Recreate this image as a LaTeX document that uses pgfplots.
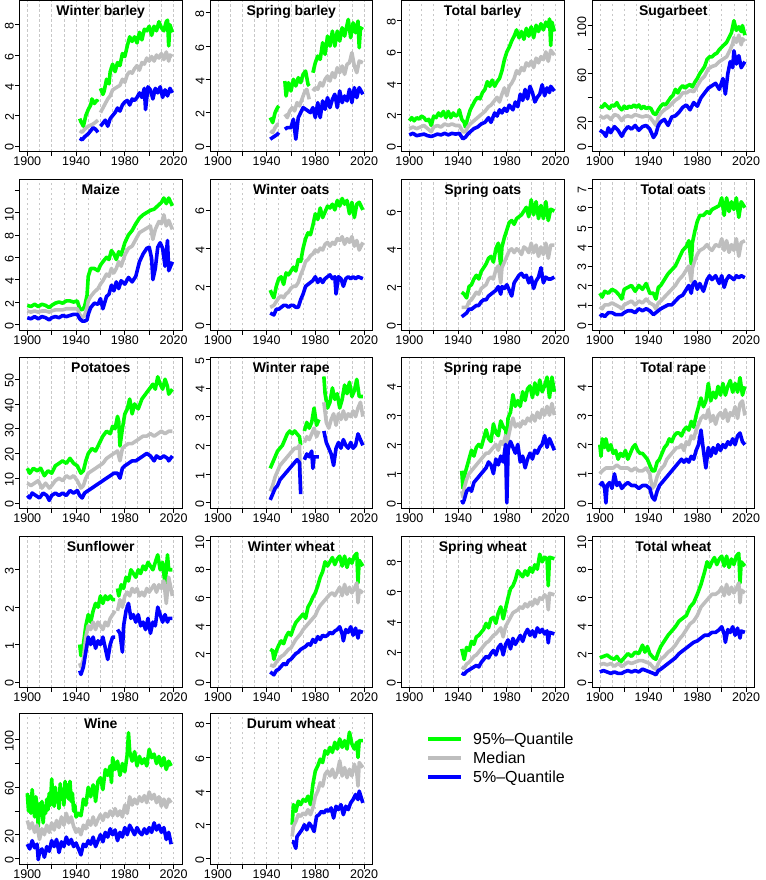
\documentclass[border=0pt]{standalone}
\usepackage{fontspec}
\setmainfont{Liberation Sans}
\usepackage{pgfplots}
\pgfplotsset{compat=1.18}
\definecolor{qgreen}{RGB}{0,255,0}
\definecolor{qgray}{RGB}{190,190,190}
\definecolor{qblue}{RGB}{0,0,255}
\definecolor{gridc}{RGB}{200,200,200}
\pgfplotsset{
 panel/.style={scale only axis, width=162.5pt, height=151pt, anchor=north west,
  xmin=1893.6, xmax=2026.9,
  axis line style={line width=0.8pt, black},
  tick align=outside, xtick pos=bottom, ytick pos=left,
  xtick={1900,1920,...,2020}, xticklabels={1900,,1940,,1980,,2020},
  minor xtick={1900,1910,...,2020}, minor tick length=0pt, xminorgrids,
  minor grid style={dash pattern=on 2.5pt off 2.5pt, gridc, line width=0.6pt},
  major tick length=4.5pt, tick style={black, line width=0.7pt},
  /pgf/number format/assume math mode=true,
  ticklabel style={font=\fontsize{12.5}{13}\selectfont, inner sep=1pt},
  xticklabel style={yshift=0pt},
  yticklabel style={rotate=90, anchor=south, xshift=-1.5pt},
  title style={at={(0.5,1)}, anchor=north, yshift=-7.5pt, font=\bfseries\fontsize{14}{15}\selectfont},
  unbounded coords=jump},
 hi/.style={line width=3.6pt, qgreen, line join=round},
 md/.style={line width=3.6pt, qgray, line join=round},
 lo/.style={line width=3.6pt, qblue, line join=round}
}
\begin{document}
\begin{tikzpicture}
\path[use as bounding box] (0,0) rectangle (765pt,-880pt);
% Row 1
\begin{axis}[panel, at={(19.5pt,-0.5pt)}, ymin=-0.37, ymax=9.6, ytick={0,2,...,8}, title={Winter barley}]
\addplot[hi] coordinates {(1943,1.8)(1944,1.6)(1946,1.3)(1948,2.0)(1950,2.4)(1952,2.7)(1953,3.1)(1955,2.8)(1957,3.0)(1958,2.9)(1959,nan)(1960,3.8)(1962,3.4)(1963,3.6)(1965,4.4)(1967,4.1)(1968,4.9)(1970,5.4)(1972,4.9)(1974,5.5)(1976,5.3)(1978,6.1)(1980,5.9)(1982,6.6)(1984,7.2)(1986,6.9)(1988,7.2)(1990,6.8)(1992,7.5)(1994,7.0)(1996,7.7)(1998,7.6)(2000,7.9)(2002,7.3)(2004,7.9)(2006,7.6)(2008,8.2)(2010,7.8)(2012,7.6)(2014,8.2)(2015,8.3)(2016,6.6)(2017,8.0)(2019,7.5)};
\addplot[md] coordinates {(1943,1.0)(1945,0.9)(1947,1.1)(1950,1.3)(1953,1.4)(1955,1.5)(1958,1.7)(1959,nan)(1960,2.2)(1962,2.5)(1964,2.8)(1966,3.1)(1968,3.3)(1970,3.7)(1972,3.8)(1974,3.9)(1976,4.0)(1978,4.4)(1980,4.2)(1982,4.7)(1984,4.9)(1986,4.8)(1988,5.1)(1990,5.3)(1992,5.0)(1994,5.5)(1996,5.4)(1998,5.8)(2000,5.6)(2002,5.9)(2004,5.6)(2006,6.0)(2008,5.8)(2010,6.1)(2012,5.7)(2014,6.2)(2016,5.6)(2017,6.0)(2019,5.9)};
\addplot[lo] coordinates {(1943,0.5)(1945,0.4)(1947,0.6)(1950,0.8)(1952,1.0)(1954,1.2)(1956,1.1)(1958,0.9)(1959,nan)(1960,1.3)(1962,1.5)(1964,1.7)(1966,1.3)(1968,1.8)(1970,2.0)(1972,2.2)(1974,2.5)(1976,2.3)(1978,2.7)(1980,2.9)(1982,3.0)(1984,2.7)(1986,3.1)(1988,3.0)(1990,3.2)(1992,3.5)(1994,3.2)(1996,3.8)(1997,2.4)(1999,3.9)(2001,3.7)(2003,3.1)(2005,3.8)(2007,3.5)(2009,3.9)(2011,3.2)(2013,3.7)(2015,3.3)(2017,3.8)(2019,3.5)};
\end{axis}
\begin{axis}[panel, at={(210pt,-0.5pt)}, ymin=-0.34, ymax=8.74, ytick={0,2,...,8}, title={Spring barley}]
\addplot[hi] coordinates {(1943,1.7)(1945,1.4)(1947,2.0)(1949,2.3)(1950,2.4)(1951,nan)(1955,3.9)(1956,3.0)(1958,3.8)(1960,3.3)(1962,4.0)(1964,3.6)(1966,4.1)(1968,3.8)(1970,4.3)(1972,4.5)(1974,3.7)(1975,3.6)(1976,nan)(1978,4.4)(1980,5.0)(1982,5.4)(1984,5.2)(1986,6.2)(1988,5.5)(1990,6.6)(1992,6.0)(1994,6.9)(1996,6.0)(1998,6.9)(2000,6.3)(2002,7.1)(2004,6.6)(2007,7.6)(2009,6.5)(2011,7.4)(2013,6.8)(2015,7.5)(2016,5.9)(2017,7.1)(2019,7.0)};
\addplot[md] coordinates {(1943,0.9)(1945,0.8)(1947,1.1)(1949,1.3)(1950,1.3)(1951,nan)(1955,1.9)(1957,1.7)(1959,2.1)(1961,2.3)(1963,2.1)(1965,2.6)(1967,2.4)(1969,2.8)(1971,3.2)(1973,3.4)(1975,2.8)(1976,nan)(1978,3.3)(1980,3.5)(1982,3.4)(1984,3.8)(1986,3.6)(1988,4.0)(1990,4.2)(1992,3.9)(1994,4.4)(1996,4.1)(1998,4.7)(2000,4.4)(2002,4.8)(2004,4.3)(2006,4.9)(2008,5.0)(2010,5.6)(2012,4.8)(2014,4.4)(2016,5.1)(2019,5.0)};
\addplot[lo] coordinates {(1943,0.4)(1945,0.5)(1947,0.6)(1949,0.7)(1950,0.8)(1951,nan)(1955,1.0)(1957,1.1)(1960,1.1)(1962,1.6)(1963,1.0)(1964,0.4)(1966,1.7)(1968,2.0)(1970,2.3)(1972,2.2)(1974,2.1)(1976,2.0)(1978,2.3)(1980,1.7)(1982,2.6)(1984,1.7)(1986,2.7)(1988,2.2)(1990,2.9)(1992,2.3)(1994,2.8)(1996,3.1)(1998,2.3)(2000,3.3)(2002,2.6)(2004,3.0)(2006,2.7)(2008,3.4)(2010,2.6)(2012,3.5)(2014,2.9)(2016,3.5)(2019,3.1)};
\end{axis}
\begin{axis}[panel, at={(401.5pt,-0.5pt)}, ymin=-0.36, ymax=9.28, ytick={0,2,...,8}, title={Total barley}]
\addplot[hi] coordinates {(1900,1.6)(1902,1.8)(1904,1.6)(1906,1.8)(1908,1.7)(1910,1.9)(1912,1.8)(1914,1.6)(1916,1.7)(1918,1.3)(1920,1.9)(1922,1.8)(1924,2.1)(1926,1.9)(1928,2.2)(1930,1.8)(1932,2.2)(1934,1.8)(1936,2.1)(1938,1.9)(1940,2.0)(1941,2.3)(1943,1.7)(1945,1.5)(1946,1.2)(1948,1.8)(1950,2.3)(1952,2.6)(1954,2.9)(1956,3.1)(1958,3.0)(1960,3.4)(1962,3.6)(1964,4.1)(1966,3.8)(1968,4.2)(1970,3.8)(1972,4.1)(1974,4.3)(1976,4.8)(1978,5.5)(1980,6.0)(1982,6.3)(1984,6.7)(1986,7.0)(1988,7.4)(1990,6.9)(1992,7.3)(1994,6.8)(1996,7.5)(1998,7.0)(2000,7.6)(2002,6.9)(2004,7.7)(2006,7.3)(2008,7.8)(2010,7.4)(2012,7.9)(2014,7.6)(2015,8.1)(2016,6.4)(2017,7.9)(2019,7.3)};
\addplot[md] coordinates {(1900,1.1)(1903,1.2)(1906,1.1)(1909,1.2)(1912,1.3)(1915,1.1)(1918,0.9)(1920,1.2)(1923,1.3)(1926,1.2)(1929,1.4)(1932,1.3)(1935,1.4)(1938,1.3)(1941,1.3)(1944,0.9)(1946,0.9)(1948,1.2)(1950,1.4)(1953,1.6)(1956,1.8)(1959,2.0)(1962,2.2)(1965,2.5)(1967,2.6)(1970,2.9)(1972,3.1)(1974,2.8)(1976,3.3)(1978,3.7)(1980,3.2)(1982,3.8)(1984,4.0)(1986,4.3)(1988,4.8)(1990,4.6)(1992,5.0)(1994,4.8)(1996,5.3)(1998,5.1)(2000,5.4)(2002,5.0)(2004,5.6)(2006,5.3)(2008,5.7)(2010,5.5)(2012,6.0)(2014,5.4)(2016,6.1)(2019,5.8)};
\addplot[lo] coordinates {(1900,0.7)(1903,0.8)(1906,0.65)(1909,0.7)(1912,0.75)(1915,0.65)(1918,0.6)(1920,0.65)(1923,0.75)(1926,0.7)(1929,0.8)(1932,0.7)(1935,0.8)(1938,0.75)(1941,0.8)(1944,0.45)(1946,0.55)(1948,0.75)(1950,0.9)(1953,1.1)(1956,1.2)(1959,1.4)(1962,1.5)(1965,1.8)(1967,1.5)(1970,2.1)(1972,1.9)(1974,2.3)(1976,2.1)(1978,2.4)(1980,2.2)(1982,2.6)(1985,2.3)(1987,2.8)(1989,2.5)(1991,3.3)(1993,2.9)(1995,3.6)(1997,3.0)(1999,3.8)(2001,3.4)(2003,2.8)(2005,3.1)(2007,3.3)(2009,3.9)(2011,3.2)(2013,3.7)(2015,3.4)(2016,3.8)(2019,3.5)};
\end{axis}
\begin{axis}[panel, at={(592pt,-0.5pt)}, ymin=-4.65, ymax=120.8, ytick={0,20,...,100}, yticklabels={0,20,,60,,100}, title={Sugarbeet}]
\addplot[hi] coordinates {(1900,33)(1902,32)(1904,35)(1906,33)(1908,31)(1910,34)(1912,33)(1914,36)(1916,32)(1918,30)(1920,33)(1922,31)(1924,33)(1926,32)(1928,34)(1930,32)(1932,34)(1934,31)(1936,33)(1938,31)(1940,32)(1942,31)(1944,27)(1946,26)(1948,30)(1950,33)(1952,35)(1954,34)(1956,37)(1958,40)(1960,42)(1962,47)(1964,44)(1966,48)(1968,50)(1970,48)(1972,50)(1974,51)(1976,49)(1978,53)(1980,56)(1982,60)(1984,63)(1986,66)(1988,72)(1990,74)(1992,74)(1994,76)(1996,77)(1998,80)(2000,82)(2002,84)(2004,86)(2006,90)(2008,94)(2010,104)(2012,96)(2014,99)(2016,95)(2017,100)(2019,92)};
\addplot[md] coordinates {(1900,25)(1903,23)(1906,25)(1909,22)(1912,26)(1915,25)(1918,21)(1920,24)(1923,25)(1926,24)(1929,26)(1932,25)(1935,24)(1938,25)(1941,24)(1944,20)(1946,17)(1948,24)(1950,27)(1953,30)(1956,32)(1959,35)(1962,38)(1965,40)(1968,44)(1971,44)(1974,46)(1977,45)(1980,50)(1983,55)(1986,58)(1989,64)(1992,66)(1995,67)(1998,70)(2001,72)(2004,74)(2007,80)(2009,85)(2010,90)(2012,86)(2014,92)(2016,84)(2017,89)(2019,87)};
\addplot[lo] coordinates {(1900,13)(1903,11)(1905,8)(1907,15)(1909,11)(1912,16)(1915,13)(1918,8)(1920,12)(1923,16)(1926,14)(1929,17)(1932,13)(1935,16)(1938,17)(1941,14)(1944,7)(1946,10)(1948,17)(1950,20)(1953,22)(1956,17)(1959,24)(1962,25)(1965,28)(1968,32)(1971,34)(1974,30)(1977,36)(1980,33)(1983,40)(1986,44)(1989,48)(1992,50)(1995,52)(1998,47)(2001,56)(2003,43)(2005,60)(2007,70)(2009,65)(2010,79)(2012,68)(2014,75)(2016,65)(2019,70)};
\end{axis}
% Row 2
\begin{axis}[panel, at={(19.5pt,-179pt)}, ymin=-0.5, ymax=13.0, ytick={0,2,...,12}, yticklabels={0,2,4,6,8,10,}, title={Maize}]
\addplot[hi] coordinates {(1900,1.7)(1903,1.6)(1906,1.8)(1909,1.6)(1912,1.8)(1915,1.7)(1918,1.5)(1920,1.7)(1923,1.9)(1926,2.0)(1929,1.9)(1932,2.1)(1935,2.1)(1938,2.0)(1941,2.1)(1943,1.4)(1945,1.3)(1947,1.6)(1949,2.6)(1950,4.3)(1952,5.0)(1955,5.0)(1958,4.8)(1960,5.3)(1962,5.6)(1965,6.0)(1967,5.8)(1969,6.6)(1971,6.3)(1973,5.8)(1975,6.5)(1977,6.2)(1980,7.3)(1983,8.0)(1986,8.4)(1989,9.0)(1992,9.5)(1995,9.8)(1998,10.0)(2001,10.2)(2004,10.3)(2007,10.6)(2010,10.9)(2012,11.3)(2014,10.8)(2016,11.3)(2019,10.6)};
\addplot[md] coordinates {(1900,1.2)(1903,1.1)(1906,1.2)(1909,1.1)(1912,1.2)(1915,1.2)(1918,1.1)(1920,1.2)(1923,1.3)(1926,1.3)(1929,1.3)(1932,1.4)(1935,1.4)(1938,1.4)(1941,1.4)(1943,0.9)(1945,0.6)(1947,0.8)(1949,1.5)(1950,2.1)(1952,2.5)(1955,2.9)(1958,3.2)(1960,3.6)(1962,3.9)(1965,4.5)(1967,4.3)(1969,5.0)(1971,4.6)(1973,5.0)(1975,5.6)(1977,5.2)(1980,6.2)(1983,6.8)(1986,7.0)(1989,7.6)(1992,8.2)(1995,8.4)(1998,8.6)(2001,8.8)(2003,7.6)(2005,8.5)(2008,9.2)(2010,9.0)(2012,9.8)(2014,8.8)(2016,9.3)(2019,8.5)};
\addplot[lo] coordinates {(1900,0.6)(1903,0.5)(1906,0.7)(1909,0.5)(1912,0.7)(1915,0.6)(1918,0.4)(1920,0.6)(1923,0.7)(1926,0.6)(1929,0.8)(1932,0.7)(1935,0.8)(1938,0.9)(1941,0.9)(1943,0.5)(1945,0.3)(1947,0.3)(1949,0.4)(1950,0.9)(1952,1.5)(1955,1.9)(1958,1.8)(1960,2.3)(1962,1.4)(1965,2.5)(1967,2.7)(1969,3.5)(1971,3.0)(1973,3.8)(1975,3.2)(1977,3.9)(1980,3.6)(1983,4.2)(1986,3.8)(1989,4.3)(1992,5.6)(1995,6.3)(1998,6.8)(2000,6.9)(2002,5.9)(2003,4.0)(2005,5.0)(2007,6.9)(2009,7.3)(2011,6.8)(2013,5.2)(2015,7.5)(2016,4.8)(2019,5.6)};
\end{axis}
\begin{axis}[panel, at={(210pt,-179pt)}, ymin=-0.29, ymax=7.62, ytick={0,2,...,6}, title={Winter oats}]
\addplot[hi] coordinates {(1943,1.8)(1945,1.5)(1946,1.4)(1948,2.0)(1950,2.4)(1952,2.5)(1954,2.1)(1956,2.7)(1958,2.6)(1960,2.8)(1962,3.0)(1964,2.8)(1966,3.4)(1968,3.3)(1970,4.0)(1972,4.5)(1974,4.8)(1976,4.7)(1978,5.2)(1980,5.8)(1982,5.5)(1984,6.1)(1986,5.6)(1988,5.9)(1990,6.2)(1992,6.1)(1994,6.3)(1996,6.0)(1998,6.5)(2000,6.2)(2002,6.6)(2004,6.3)(2006,6.5)(2008,5.8)(2010,6.4)(2012,5.6)(2014,6.3)(2016,6.4)(2019,6.0)};
\addplot[md] coordinates {(1943,0.9)(1946,1.0)(1948,1.2)(1950,1.4)(1952,1.5)(1954,1.4)(1956,1.6)(1958,1.7)(1960,1.9)(1962,2.0)(1964,2.0)(1966,2.2)(1968,2.6)(1970,2.9)(1972,3.3)(1974,3.4)(1976,3.6)(1978,3.7)(1980,3.9)(1982,3.8)(1984,4.0)(1986,3.9)(1988,4.2)(1990,4.3)(1992,4.1)(1994,4.3)(1996,4.2)(1998,4.5)(2000,4.4)(2002,4.6)(2004,4.2)(2006,4.5)(2008,4.3)(2010,4.6)(2012,4.1)(2014,4.4)(2016,3.9)(2019,4.3)};
\addplot[lo] coordinates {(1943,0.6)(1946,0.5)(1948,0.8)(1950,0.8)(1952,0.9)(1954,1.0)(1956,1.0)(1958,0.9)(1960,1.0)(1962,1.0)(1964,0.9)(1966,0.9)(1968,1.3)(1970,1.6)(1972,2.0)(1974,2.1)(1976,2.2)(1978,2.3)(1980,2.5)(1982,2.2)(1984,2.4)(1986,2.2)(1988,2.4)(1990,2.5)(1992,2.6)(1994,2.4)(1996,2.5)(1997,1.6)(1999,2.5)(2001,2.4)(2003,2.0)(2005,2.4)(2007,2.5)(2009,2.4)(2011,2.5)(2013,2.4)(2015,2.5)(2019,2.4)};
\end{axis}
\begin{axis}[panel, at={(401.5pt,-179pt)}, ymin=-0.3, ymax=7.7, ytick={0,2,...,6}, title={Spring oats}]
\addplot[hi] coordinates {(1943,1.7)(1945,1.6)(1947,1.4)(1949,2.0)(1951,2.1)(1953,2.4)(1955,2.6)(1957,2.4)(1959,2.8)(1961,3.0)(1963,3.2)(1965,3.5)(1967,3.6)(1969,3.3)(1971,4.0)(1973,4.3)(1975,3.1)(1976,4.1)(1978,4.6)(1980,5.0)(1982,5.4)(1984,5.5)(1986,5.3)(1988,5.6)(1990,5.7)(1992,5.8)(1994,6.0)(1996,6.2)(1998,5.7)(2000,6.6)(2002,5.8)(2004,6.5)(2006,5.6)(2008,6.3)(2010,5.6)(2012,6.5)(2014,5.5)(2016,6.1)(2019,6.0)};
\addplot[md] coordinates {(1943,0.9)(1945,0.9)(1947,0.9)(1949,1.2)(1951,1.3)(1953,1.5)(1955,1.7)(1957,1.6)(1959,1.9)(1961,2.0)(1963,2.1)(1965,2.4)(1967,2.5)(1969,2.4)(1971,2.9)(1973,3.1)(1975,2.2)(1976,3.0)(1978,3.3)(1980,3.6)(1982,3.9)(1984,4.0)(1986,3.8)(1988,4.0)(1990,3.9)(1992,3.7)(1994,4.1)(1996,4.0)(1998,3.8)(2000,4.3)(2002,3.8)(2004,4.2)(2006,3.6)(2008,4.1)(2010,3.7)(2012,4.3)(2014,3.5)(2016,4.2)(2019,4.2)};
\addplot[lo] coordinates {(1943,0.4)(1945,0.5)(1947,0.6)(1949,0.8)(1951,0.8)(1953,0.9)(1955,1.0)(1957,1.0)(1959,1.2)(1961,1.3)(1963,1.3)(1965,1.5)(1967,1.6)(1969,1.7)(1971,1.8)(1973,2.0)(1975,1.6)(1976,2.0)(1978,1.9)(1980,2.1)(1982,1.8)(1984,1.5)(1986,2.2)(1988,2.4)(1990,2.6)(1992,2.7)(1994,2.5)(1996,2.6)(1998,2.2)(2000,2.5)(2002,1.9)(2004,2.3)(2006,2.5)(2008,3.0)(2010,2.2)(2012,2.5)(2014,2.4)(2016,2.4)(2019,2.5)};
\end{axis}
\begin{axis}[panel, at={(592pt,-179pt)}, ymin=-0.29, ymax=7.47, ytick={0,1,...,7}, title={Total oats}]
\addplot[hi] coordinates {(1900,1.6)(1902,1.4)(1904,1.7)(1907,1.6)(1910,1.8)(1913,1.7)(1916,1.5)(1918,1.3)(1920,1.8)(1923,1.9)(1926,2.0)(1929,1.7)(1932,2.0)(1935,1.8)(1938,2.1)(1941,1.6)(1944,1.6)(1946,1.3)(1948,1.9)(1950,2.0)(1953,2.3)(1956,2.6)(1959,2.8)(1962,3.0)(1965,3.4)(1968,3.8)(1971,4.0)(1973,4.3)(1975,3.1)(1976,4.2)(1978,4.8)(1980,5.3)(1982,5.6)(1985,5.6)(1988,5.8)(1990,5.7)(1992,5.9)(1995,6.0)(1998,6.1)(2000,6.5)(2002,5.6)(2004,6.5)(2006,5.8)(2008,6.3)(2010,5.9)(2012,6.5)(2014,5.5)(2016,6.3)(2019,6.0)};
\addplot[md] coordinates {(1900,0.9)(1902,0.8)(1904,1.0)(1907,1.0)(1910,1.1)(1913,1.0)(1916,0.9)(1918,0.8)(1920,1.0)(1923,1.1)(1926,1.2)(1929,1.0)(1932,1.2)(1935,1.1)(1938,1.3)(1941,1.1)(1944,1.0)(1946,0.8)(1948,1.1)(1950,1.2)(1953,1.4)(1956,1.6)(1959,1.8)(1962,2.0)(1965,2.3)(1968,2.5)(1971,2.8)(1973,3.0)(1975,2.2)(1976,2.9)(1978,3.3)(1980,3.6)(1982,3.8)(1985,3.9)(1988,4.1)(1990,3.9)(1992,3.8)(1995,4.1)(1998,4.0)(2000,4.4)(2002,3.8)(2004,4.3)(2006,3.7)(2008,4.1)(2010,3.8)(2012,4.4)(2014,3.5)(2016,4.2)(2019,4.3)};
\addplot[lo] coordinates {(1900,0.4)(1902,0.5)(1904,0.4)(1907,0.6)(1910,0.6)(1913,0.5)(1916,0.5)(1918,0.5)(1920,0.6)(1923,0.7)(1926,0.7)(1929,0.6)(1932,0.8)(1935,0.7)(1938,0.8)(1941,0.7)(1944,0.5)(1946,0.6)(1948,0.7)(1950,0.8)(1953,0.9)(1956,1.0)(1959,1.0)(1962,1.2)(1965,1.4)(1968,1.5)(1971,1.8)(1973,2.0)(1975,1.6)(1976,2.0)(1978,2.2)(1980,1.8)(1982,2.1)(1985,1.7)(1988,2.3)(1990,2.5)(1992,2.3)(1995,2.5)(1998,2.1)(2000,2.5)(2002,1.9)(2004,2.3)(2006,2.5)(2008,2.4)(2010,2.3)(2012,2.5)(2014,2.4)(2016,2.5)(2019,2.4)};
\end{axis}
% Row 3
\begin{axis}[panel, at={(19.5pt,-357.5pt)}, ymin=-2.26, ymax=58.8, ytick={0,10,...,50}, title={Potatoes}]
\addplot[hi] coordinates {(1900,14)(1902,12)(1905,14)(1908,13)(1911,14)(1914,11)(1917,13)(1920,12)(1923,15)(1926,16)(1929,17)(1932,16)(1935,18)(1938,16)(1941,15)(1944,12)(1946,13)(1948,17)(1950,20)(1953,22)(1956,21)(1959,24)(1962,27)(1965,29)(1968,28)(1970,31)(1972,30)(1974,35)(1975,33)(1976,23)(1978,30)(1980,36)(1982,38)(1984,42)(1986,36)(1988,40)(1991,38)(1994,42)(1997,44)(2000,46)(2003,48)(2005,46)(2007,51)(2009,48)(2011,46)(2013,50)(2015,47)(2016,44)(2019,46)};
\addplot[md] coordinates {(1900,8)(1903,7)(1906,8)(1909,9)(1912,6)(1915,8)(1918,6)(1920,7)(1923,9)(1926,10)(1929,9)(1932,11)(1935,10)(1938,11)(1941,9)(1944,6)(1946,7)(1948,10)(1950,12)(1953,13)(1956,14)(1959,15)(1962,16)(1965,18)(1968,19)(1971,20)(1974,21)(1976,17)(1978,22)(1980,23)(1983,24)(1986,24)(1989,25)(1992,26)(1995,27)(1998,27)(2001,28)(2004,27)(2007,28)(2010,29)(2013,28)(2016,29)(2019,29)};
\addplot[lo] coordinates {(1900,3)(1902,2)(1904,4)(1907,3)(1910,2)(1913,4)(1916,3)(1918,1)(1920,3)(1923,4)(1926,3)(1929,4)(1932,3)(1935,5)(1938,4)(1941,5)(1943,3)(1945,2)(1947,4)(1950,5)(1953,6)(1956,7)(1959,8)(1962,9)(1965,10)(1968,11)(1971,12)(1974,12)(1976,10)(1978,14)(1980,15)(1983,16)(1986,17)(1989,17)(1992,18)(1995,19)(1998,20)(2001,19)(2004,17)(2006,19)(2009,18)(2012,19)(2015,18)(2016,17)(2019,19)};
\end{axis}
\begin{axis}[panel, at={(210pt,-357.5pt)}, ymin=-0.2, ymax=5.06, ytick={0,1,...,5}, title={Winter rape}]
\addplot[hi] coordinates {(1943,1.2)(1945,1.4)(1947,1.6)(1949,1.8)(1951,1.9)(1953,2.0)(1955,2.2)(1957,2.4)(1959,2.5)(1961,2.4)(1963,2.5)(1965,2.4)(1967,2.3)(1968,2.0)(1969,nan)(1971,2.5)(1973,2.8)(1975,2.6)(1977,2.8)(1979,3.3)(1981,2.7)(1983,2.9)(1984,nan)(1987,4.4)(1988,3.8)(1990,3.3)(1992,3.5)(1994,4.0)(1996,3.6)(1998,3.8)(2000,3.3)(2002,3.6)(2004,4.1)(2006,3.8)(2008,4.2)(2010,3.7)(2012,3.9)(2014,4.3)(2016,3.7)(2019,3.7)};
\addplot[md] coordinates {(1943,0.4)(1945,0.6)(1947,0.9)(1949,1.1)(1951,1.3)(1953,1.4)(1955,1.5)(1957,1.6)(1959,1.7)(1961,1.8)(1963,1.9)(1965,1.9)(1967,2.0)(1968,0.4)(1969,nan)(1971,2.1)(1973,2.3)(1975,2.2)(1977,2.4)(1979,2.6)(1981,2.3)(1983,2.5)(1984,nan)(1987,3.5)(1989,2.8)(1991,2.6)(1993,2.9)(1995,3.1)(1997,2.7)(1999,3.1)(2001,2.9)(2003,3.2)(2005,2.9)(2007,3.1)(2009,3.0)(2011,3.2)(2013,3.0)(2015,3.3)(2017,3.5)(2019,3.0)};
\addplot[lo] coordinates {(1943,0.1)(1945,0.3)(1947,0.5)(1949,0.6)(1951,0.8)(1953,0.9)(1955,1.0)(1957,1.1)(1959,1.2)(1961,1.3)(1963,1.4)(1965,1.5)(1967,1.4)(1968,0.3)(1969,nan)(1971,1.5)(1973,1.7)(1975,1.6)(1977,1.8)(1978,1.2)(1979,1.6)(1981,1.6)(1983,1.6)(1984,nan)(1987,2.5)(1989,2.1)(1991,1.9)(1993,1.7)(1995,1.3)(1997,1.9)(1999,2.1)(2001,1.9)(2003,2.2)(2005,2.0)(2007,1.9)(2009,2.1)(2011,1.9)(2013,2.0)(2015,2.4)(2016,2.3)(2019,2.0)};
\end{axis}
\begin{axis}[panel, at={(401.5pt,-357.5pt)}, ymin=-0.19, ymax=4.97, ytick={0,1,...,4}, title={Spring rape}]
\addplot[hi] coordinates {(1943,1.1)(1944,0.5)(1945,0.9)(1947,1.2)(1949,1.5)(1951,1.8)(1953,1.6)(1955,1.9)(1957,2.0)(1959,1.9)(1961,2.2)(1963,2.5)(1965,2.2)(1967,2.1)(1969,2.7)(1971,2.4)(1973,2.3)(1975,2.8)(1977,2.6)(1979,2.5)(1980,2.2)(1981,2.9)(1983,3.1)(1985,3.7)(1987,3.3)(1989,3.5)(1991,3.3)(1993,3.8)(1995,3.5)(1997,3.9)(1999,4.0)(2001,3.6)(2003,4.1)(2005,3.7)(2007,4.2)(2009,3.8)(2011,4.0)(2013,4.3)(2015,3.6)(2017,4.3)(2019,3.8)};
\addplot[md] coordinates {(1943,0.4)(1944,0.2)(1945,0.5)(1947,0.8)(1949,1.0)(1951,1.1)(1953,1.2)(1955,1.3)(1957,1.4)(1959,1.5)(1961,1.6)(1963,1.7)(1965,1.7)(1967,1.8)(1969,1.9)(1971,2.0)(1973,1.8)(1975,2.1)(1977,2.0)(1979,2.3)(1980,0.1)(1981,2.2)(1983,2.6)(1985,2.9)(1987,2.6)(1989,2.7)(1991,2.6)(1993,2.8)(1995,2.7)(1997,2.9)(1999,2.8)(2001,3.0)(2003,2.8)(2005,3.1)(2007,2.9)(2009,3.2)(2011,3.0)(2013,3.3)(2015,3.0)(2017,3.4)(2019,3.0)};
\addplot[lo] coordinates {(1943,0.1)(1944,0.0)(1945,0.1)(1947,0.4)(1949,0.5)(1951,0.4)(1953,0.7)(1955,0.8)(1957,0.9)(1959,1.0)(1961,1.1)(1963,1.2)(1965,1.4)(1967,1.3)(1969,1.0)(1971,1.5)(1973,1.3)(1975,1.6)(1977,1.4)(1979,2.0)(1980,0.0)(1981,1.8)(1983,2.1)(1985,1.9)(1987,1.7)(1989,2.0)(1991,1.4)(1993,1.6)(1995,1.2)(1997,1.5)(1999,1.7)(2001,1.5)(2003,1.8)(2005,1.7)(2007,1.9)(2009,2.0)(2011,2.3)(2013,1.9)(2015,2.2)(2017,2.0)(2019,1.8)};
\end{axis}
\begin{axis}[panel, at={(592pt,-357.5pt)}, ymin=-0.19, ymax=4.99, ytick={0,1,...,4}, title={Total rape}]
\addplot[hi] coordinates {(1900,2.0)(1901,1.6)(1902,2.2)(1904,1.9)(1905,2.2)(1907,1.8)(1909,2.0)(1911,1.7)(1913,1.8)(1915,1.5)(1917,1.7)(1919,1.6)(1921,1.8)(1923,1.5)(1925,1.7)(1927,1.9)(1929,2.0)(1931,1.8)(1933,1.7)(1935,1.7)(1937,1.6)(1939,1.5)(1941,1.3)(1943,1.1)(1945,1.1)(1947,1.4)(1949,1.5)(1951,1.7)(1953,1.9)(1955,2.0)(1957,2.2)(1959,2.1)(1961,2.3)(1963,2.4)(1965,2.4)(1967,2.3)(1969,2.5)(1971,2.6)(1973,2.5)(1975,2.8)(1977,2.6)(1979,3.0)(1981,3.3)(1983,3.6)(1985,3.3)(1987,3.5)(1989,4.1)(1991,3.5)(1993,3.8)(1995,3.6)(1997,4.0)(1999,3.7)(2001,4.1)(2003,3.7)(2005,4.0)(2007,4.2)(2009,3.8)(2011,4.1)(2013,3.8)(2015,4.3)(2017,3.7)(2019,4.0)};
\addplot[md] coordinates {(1900,1.0)(1902,1.1)(1905,1.2)(1908,1.2)(1911,1.2)(1914,1.3)(1917,1.2)(1920,1.2)(1923,1.2)(1926,1.1)(1929,1.2)(1932,1.1)(1935,1.1)(1938,1.2)(1941,1.0)(1943,0.5)(1945,0.6)(1947,0.9)(1949,1.1)(1951,1.2)(1953,1.3)(1955,1.5)(1957,1.6)(1959,1.7)(1961,1.8)(1963,1.9)(1965,1.9)(1967,2.0)(1969,1.8)(1971,2.1)(1973,2.0)(1975,2.3)(1977,2.2)(1979,2.5)(1981,2.7)(1983,2.9)(1985,3.0)(1987,2.9)(1989,3.2)(1991,2.8)(1993,3.0)(1995,2.7)(1997,3.0)(1999,3.1)(2001,2.9)(2003,3.2)(2005,2.8)(2007,3.1)(2009,3.0)(2011,3.3)(2013,2.9)(2015,3.4)(2017,3.5)(2019,3.0)};
\addplot[lo] coordinates {(1900,0.6)(1902,0.7)(1904,0.5)(1905,0.0)(1906,0.6)(1908,0.7)(1910,0.5)(1912,1.0)(1914,0.6)(1916,0.7)(1918,0.5)(1920,0.6)(1923,0.7)(1926,0.6)(1929,0.6)(1932,0.5)(1935,0.6)(1938,0.6)(1941,0.5)(1943,0.2)(1945,0.1)(1947,0.4)(1949,0.6)(1951,0.7)(1953,0.8)(1955,0.9)(1957,1.0)(1959,1.1)(1961,1.2)(1963,1.3)(1965,1.4)(1967,1.5)(1969,1.4)(1971,1.5)(1973,1.4)(1975,1.6)(1977,1.5)(1979,1.8)(1981,2.0)(1983,2.5)(1985,1.8)(1987,1.2)(1989,1.9)(1991,1.6)(1993,1.9)(1995,1.7)(1997,2.0)(1999,1.8)(2001,2.0)(2003,1.9)(2005,2.1)(2007,2.0)(2009,2.2)(2011,2.0)(2013,2.3)(2015,2.4)(2017,2.1)(2019,2.0)};
\end{axis}
% Row 4
\begin{axis}[panel, at={(19.5pt,-536.5pt)}, ymin=-0.15, ymax=3.89, ytick={0,1,...,3}, title={Sunflower}]
\addplot[hi] coordinates {(1943,1.0)(1944,0.7)(1946,1.0)(1948,1.5)(1950,1.8)(1952,1.6)(1954,1.9)(1956,2.1)(1958,2.0)(1960,2.3)(1962,2.1)(1964,2.3)(1966,2.2)(1968,2.3)(1970,2.2)(1972,2.2)(1973,nan)(1974,2.5)(1975,2.3)(1977,2.6)(1979,2.5)(1981,2.8)(1983,2.7)(1985,3.0)(1987,2.9)(1989,2.8)(1991,3.0)(1993,2.9)(1995,3.1)(1997,3.0)(1999,3.2)(2001,3.1)(2003,3.0)(2005,3.2)(2007,3.4)(2009,3.0)(2011,3.2)(2013,2.6)(2015,3.4)(2016,3.0)(2019,3.0)};
\addplot[md] coordinates {(1943,0.5)(1944,0.4)(1946,0.6)(1948,1.2)(1950,1.5)(1952,1.4)(1954,1.6)(1956,1.4)(1958,1.6)(1960,1.5)(1962,1.4)(1964,1.6)(1966,1.5)(1968,1.7)(1970,1.8)(1972,1.9)(1973,nan)(1974,1.9)(1976,2.2)(1978,2.0)(1980,2.3)(1982,2.4)(1984,2.3)(1986,2.5)(1988,2.4)(1990,2.5)(1992,2.3)(1994,2.4)(1996,2.3)(1998,2.5)(2000,2.4)(2002,2.5)(2004,2.6)(2006,2.4)(2008,2.6)(2010,2.5)(2012,2.7)(2014,2.1)(2016,2.8)(2019,2.3)};
\addplot[lo] coordinates {(1943,0.3)(1944,0.2)(1946,0.4)(1948,0.8)(1950,1.2)(1952,1.0)(1954,1.2)(1956,0.9)(1958,1.1)(1960,1.0)(1962,1.2)(1964,0.9)(1966,0.6)(1968,1.0)(1970,1.2)(1972,1.2)(1973,nan)(1974,1.4)(1976,1.3)(1978,0.8)(1979,1.5)(1981,1.9)(1983,2.1)(1985,1.7)(1987,1.8)(1989,1.6)(1991,1.8)(1993,1.5)(1995,1.6)(1997,1.4)(1999,1.7)(2001,1.3)(2003,1.6)(2005,1.5)(2007,2.0)(2009,1.8)(2011,1.6)(2013,1.8)(2015,1.6)(2016,1.7)(2019,1.7)};
\end{axis}
\begin{axis}[panel, at={(210pt,-536.5pt)}, ymin=-0.4, ymax=10.29, ytick={0,2,...,10}, title={Winter wheat}]
\addplot[hi] coordinates {(1943,2.3)(1945,2.2)(1946,1.6)(1948,2.2)(1950,2.6)(1952,2.9)(1954,2.7)(1956,3.2)(1958,3.5)(1960,3.3)(1962,3.8)(1964,4.2)(1966,4.4)(1968,4.6)(1970,4.8)(1972,4.5)(1974,5.3)(1976,5.6)(1978,6.0)(1980,6.3)(1982,6.8)(1984,7.4)(1986,7.8)(1988,8.5)(1990,8.2)(1992,8.5)(1994,8.8)(1996,8.3)(1998,8.7)(2000,8.9)(2002,8.2)(2004,8.9)(2006,8.1)(2008,8.7)(2010,8.4)(2012,8.9)(2014,9.1)(2015,7.0)(2016,8.6)(2019,8.2)};
\addplot[md] coordinates {(1943,1.2)(1946,1.1)(1948,1.4)(1950,1.6)(1952,1.8)(1954,1.9)(1956,2.1)(1958,2.3)(1960,2.4)(1962,2.7)(1964,3.0)(1966,3.2)(1968,3.4)(1970,3.7)(1972,3.9)(1974,4.1)(1976,4.3)(1978,4.5)(1980,4.7)(1982,5.1)(1984,5.4)(1986,5.6)(1988,5.8)(1990,6.0)(1992,6.2)(1994,6.3)(1996,6.1)(1998,6.4)(2000,6.7)(2002,6.1)(2004,6.9)(2006,6.2)(2008,6.7)(2010,6.3)(2012,6.6)(2014,7.0)(2015,5.6)(2016,6.5)(2019,6.3)};
\addplot[lo] coordinates {(1943,0.7)(1946,0.5)(1948,0.8)(1950,0.9)(1952,1.1)(1954,1.3)(1956,1.2)(1958,1.5)(1960,1.6)(1962,1.8)(1964,2.0)(1966,2.1)(1968,2.3)(1970,2.4)(1972,2.5)(1974,2.7)(1976,2.6)(1978,3.0)(1980,2.8)(1982,3.2)(1984,3.0)(1986,3.3)(1988,3.2)(1990,3.3)(1992,3.5)(1994,3.4)(1996,3.6)(1998,3.7)(2000,3.9)(2002,3.4)(2003,2.9)(2005,3.7)(2007,3.5)(2009,3.9)(2011,3.3)(2013,3.8)(2015,3.1)(2016,3.6)(2019,3.5)};
\end{axis}
\begin{axis}[panel, at={(401.5pt,-536.5pt)}, ymin=-0.37, ymax=9.68, ytick={0,2,...,8}, title={Spring wheat}]
\addplot[hi] coordinates {(1943,2.2)(1945,1.5)(1947,2.3)(1949,2.1)(1951,2.7)(1953,2.5)(1955,3.0)(1957,3.1)(1959,3.3)(1961,3.5)(1963,3.9)(1965,3.6)(1967,4.2)(1969,4.3)(1971,3.9)(1973,4.6)(1975,5.0)(1977,4.2)(1979,4.9)(1981,5.6)(1983,6.2)(1985,6.4)(1987,6.8)(1989,7.4)(1991,7.2)(1993,7.0)(1995,7.4)(1997,7.1)(1999,7.6)(2001,7.3)(2003,7.8)(2005,7.5)(2007,8.5)(2009,8.0)(2011,8.3)(2013,8.2)(2014,6.4)(2015,8.3)(2019,8.2)};
\addplot[md] coordinates {(1943,1.0)(1945,0.9)(1947,1.2)(1949,1.3)(1951,1.5)(1953,1.7)(1955,1.8)(1957,2.0)(1959,2.2)(1961,2.4)(1963,2.6)(1965,2.7)(1967,2.9)(1969,3.1)(1971,3.2)(1973,3.4)(1975,3.6)(1977,3.0)(1979,3.7)(1981,4.0)(1983,4.3)(1985,4.6)(1987,4.7)(1989,4.8)(1991,5.0)(1993,4.9)(1995,5.2)(1997,5.0)(1999,5.3)(2001,5.1)(2003,5.5)(2005,5.2)(2007,5.6)(2009,5.5)(2011,5.8)(2013,5.6)(2014,4.8)(2015,5.9)(2019,5.8)};
\addplot[lo] coordinates {(1943,0.6)(1945,0.5)(1947,0.7)(1949,0.8)(1951,0.9)(1953,1.0)(1955,1.1)(1957,1.0)(1959,1.3)(1961,1.5)(1963,1.7)(1965,1.6)(1967,1.9)(1969,2.1)(1971,1.8)(1973,2.3)(1975,2.5)(1977,1.8)(1979,2.5)(1981,2.8)(1983,2.2)(1985,2.9)(1987,2.5)(1989,2.8)(1991,3.1)(1993,2.7)(1995,3.2)(1997,3.5)(1999,3.1)(2001,3.4)(2003,3.0)(2005,3.6)(2007,3.3)(2009,3.5)(2011,3.2)(2013,3.4)(2014,2.6)(2015,3.3)(2019,3.2)};
\end{axis}
\begin{axis}[panel, at={(592pt,-536.5pt)}, ymin=-0.4, ymax=10.29, ytick={0,2,...,10}, title={Total wheat}]
\addplot[hi] coordinates {(1900,1.7)(1903,1.8)(1906,1.9)(1909,1.7)(1912,1.6)(1914,1.8)(1917,1.4)(1920,1.7)(1923,2.0)(1926,1.8)(1929,2.1)(1932,2.0)(1935,2.6)(1937,2.1)(1939,2.5)(1941,2.0)(1944,1.7)(1946,1.6)(1948,2.1)(1950,2.5)(1953,2.9)(1956,3.3)(1959,3.6)(1962,3.9)(1965,4.3)(1968,4.5)(1971,4.7)(1974,5.3)(1977,5.6)(1980,6.2)(1983,6.9)(1986,7.8)(1988,8.5)(1990,8.1)(1992,8.5)(1994,8.8)(1996,8.3)(1998,8.7)(2000,8.9)(2002,8.2)(2004,8.9)(2006,8.1)(2008,8.7)(2010,8.3)(2012,8.9)(2014,9.1)(2015,7.0)(2016,8.5)(2019,8.2)};
\addplot[md] coordinates {(1900,1.2)(1903,1.3)(1906,1.2)(1909,1.3)(1912,1.1)(1915,1.3)(1918,1.1)(1920,1.2)(1923,1.4)(1926,1.3)(1929,1.4)(1932,1.5)(1935,1.5)(1938,1.4)(1941,1.3)(1944,1.0)(1946,0.9)(1948,1.3)(1950,1.6)(1953,1.8)(1956,2.1)(1959,2.3)(1962,2.6)(1965,3.0)(1968,3.3)(1971,3.7)(1974,4.1)(1977,4.3)(1980,4.7)(1983,5.3)(1986,5.6)(1989,5.9)(1992,6.2)(1995,6.2)(1998,6.4)(2000,6.7)(2002,6.1)(2004,6.9)(2006,6.2)(2008,6.7)(2010,6.3)(2012,6.6)(2014,7.0)(2015,5.6)(2016,6.5)(2019,6.3)};
\addplot[lo] coordinates {(1900,0.7)(1903,0.8)(1906,0.7)(1909,0.6)(1912,0.7)(1915,0.6)(1918,0.6)(1920,0.7)(1923,0.8)(1926,0.7)(1929,0.8)(1932,0.7)(1935,0.9)(1938,0.8)(1941,0.7)(1944,0.6)(1946,0.5)(1948,0.8)(1950,0.9)(1953,1.1)(1956,1.3)(1959,1.5)(1962,1.7)(1965,2.0)(1968,2.2)(1971,2.4)(1974,2.6)(1977,2.8)(1980,2.9)(1983,3.1)(1986,3.3)(1989,3.3)(1992,3.5)(1995,3.5)(1998,3.7)(2000,3.9)(2002,3.4)(2003,2.8)(2005,3.7)(2007,3.5)(2009,3.9)(2011,3.3)(2013,3.8)(2015,3.1)(2016,3.6)(2019,3.5)};
\end{axis}
% Row 5
\begin{axis}[panel, at={(19.5pt,-713pt)}, ymin=-4.7, ymax=122.6, ytick={0,20,...,100}, yticklabels={0,20,,60,,100}, title={Wine}]
\addplot[hi] coordinates {(1900,55)(1901,40)(1902,52)(1903,38)(1904,58)(1905,45)(1906,35)(1907,52)(1908,44)(1909,27)(1910,46)(1911,38)(1912,48)(1913,30)(1914,44)(1915,38)(1916,50)(1917,41)(1918,55)(1919,45)(1920,67)(1921,50)(1922,44)(1923,60)(1924,48)(1925,53)(1926,42)(1927,63)(1928,50)(1929,58)(1930,45)(1931,65)(1932,52)(1933,62)(1934,50)(1935,65)(1936,48)(1937,55)(1938,40)(1939,45)(1940,35)(1942,38)(1944,36)(1945,42)(1946,50)(1948,45)(1950,60)(1952,52)(1954,62)(1955,58)(1956,48)(1958,65)(1960,68)(1962,58)(1964,75)(1966,70)(1968,78)(1969,64)(1970,85)(1972,75)(1974,82)(1976,70)(1978,80)(1980,73)(1982,88)(1983,106)(1984,90)(1986,82)(1988,90)(1990,78)(1992,86)(1994,80)(1996,84)(1998,78)(2000,92)(2002,85)(2004,88)(2006,80)(2008,86)(2010,78)(2012,85)(2014,75)(2016,82)(2018,78)};
\addplot[md] coordinates {(1900,32)(1902,25)(1904,30)(1906,22)(1908,28)(1910,16)(1912,25)(1914,20)(1916,28)(1918,22)(1920,30)(1922,24)(1924,32)(1926,26)(1928,35)(1930,28)(1932,38)(1934,30)(1936,35)(1938,27)(1940,22)(1942,25)(1944,20)(1946,28)(1948,25)(1950,32)(1952,28)(1954,35)(1956,28)(1958,33)(1960,37)(1962,32)(1964,38)(1966,35)(1968,40)(1970,36)(1972,42)(1974,36)(1976,40)(1978,35)(1980,45)(1982,38)(1984,52)(1986,45)(1988,50)(1990,46)(1992,52)(1994,48)(1996,53)(1998,47)(2000,56)(2002,50)(2004,54)(2006,47)(2008,52)(2010,44)(2012,50)(2014,43)(2016,50)(2018,47)};
\addplot[lo] coordinates {(1900,12)(1902,8)(1904,15)(1906,9)(1908,12)(1909,-1)(1910,5)(1912,8)(1914,1)(1916,10)(1918,6)(1920,15)(1922,10)(1924,16)(1926,5)(1928,14)(1930,10)(1932,18)(1934,12)(1936,16)(1938,10)(1940,13)(1942,8)(1944,3)(1946,12)(1948,10)(1950,15)(1952,12)(1954,18)(1956,10)(1958,15)(1960,20)(1962,14)(1964,22)(1966,18)(1968,25)(1970,20)(1972,24)(1974,15)(1976,22)(1978,18)(1980,26)(1982,20)(1984,28)(1986,24)(1988,20)(1990,26)(1992,22)(1994,20)(1996,25)(1998,21)(2000,26)(2002,22)(2004,30)(2006,24)(2008,28)(2010,22)(2012,26)(2014,16)(2016,22)(2018,12)};
\end{axis}
\begin{axis}[panel, at={(210pt,-713pt)}, ymin=-0.33, ymax=8.64, ytick={0,2,...,8}, title={Durum wheat},
  legend style={at={(1.33,0.885)}, anchor=north west, draw=none, fill=none, font=\fontsize{16}{18}\selectfont, inner sep=0pt, row sep=2pt, nodes={inner sep=2pt}},
  legend cell align=left,
  legend image code/.code={\draw[#1, line width=4pt] (0pt,0pt) -- (33pt,0pt); \path (41pt,0pt);}]
\addplot[hi] coordinates {(1961,2.0)(1962,3.2)(1964,2.8)(1966,3.4)(1968,3.2)(1970,3.5)(1972,3.4)(1974,3.7)(1976,3.2)(1978,4.4)(1980,5.2)(1982,5.5)(1984,5.9)(1986,5.7)(1988,6.4)(1990,6.2)(1992,6.6)(1994,6.3)(1996,6.9)(1998,6.5)(2000,7.1)(2002,6.6)(2004,7.0)(2006,6.5)(2008,7.5)(2010,6.8)(2012,6.5)(2014,6.9)(2015,6.0)(2016,7.0)(2019,7.0)};
\addlegendentry{95\%\textendash Quantile}
\addplot[md] coordinates {(1961,1.3)(1962,1.9)(1964,2.2)(1966,2.6)(1968,2.5)(1970,2.7)(1972,2.6)(1974,2.9)(1976,2.6)(1978,3.0)(1980,3.7)(1982,4.0)(1984,4.5)(1986,4.3)(1988,5.0)(1990,5.2)(1992,4.9)(1994,5.3)(1996,4.8)(1998,5.1)(2000,5.8)(2002,4.9)(2004,5.4)(2006,4.8)(2008,5.3)(2010,4.9)(2012,5.6)(2014,5.1)(2015,4.3)(2016,5.7)(2019,5.4)};
\addlegendentry{Median}
\addplot[lo] coordinates {(1961,1.0)(1962,1.0)(1964,0.6)(1965,1.3)(1967,1.5)(1969,1.7)(1971,2.0)(1973,1.7)(1975,2.1)(1977,1.9)(1979,1.6)(1981,2.5)(1983,2.6)(1985,2.8)(1987,2.7)(1989,2.9)(1991,2.8)(1993,3.0)(1995,2.4)(1997,3.1)(1999,2.9)(2001,3.2)(2003,2.6)(2005,3.1)(2007,2.9)(2009,3.3)(2011,3.5)(2013,3.8)(2015,3.5)(2016,4.0)(2019,3.3)};
\addlegendentry{5\%\textendash Quantile}
\end{axis}
\end{tikzpicture}
\end{document}
